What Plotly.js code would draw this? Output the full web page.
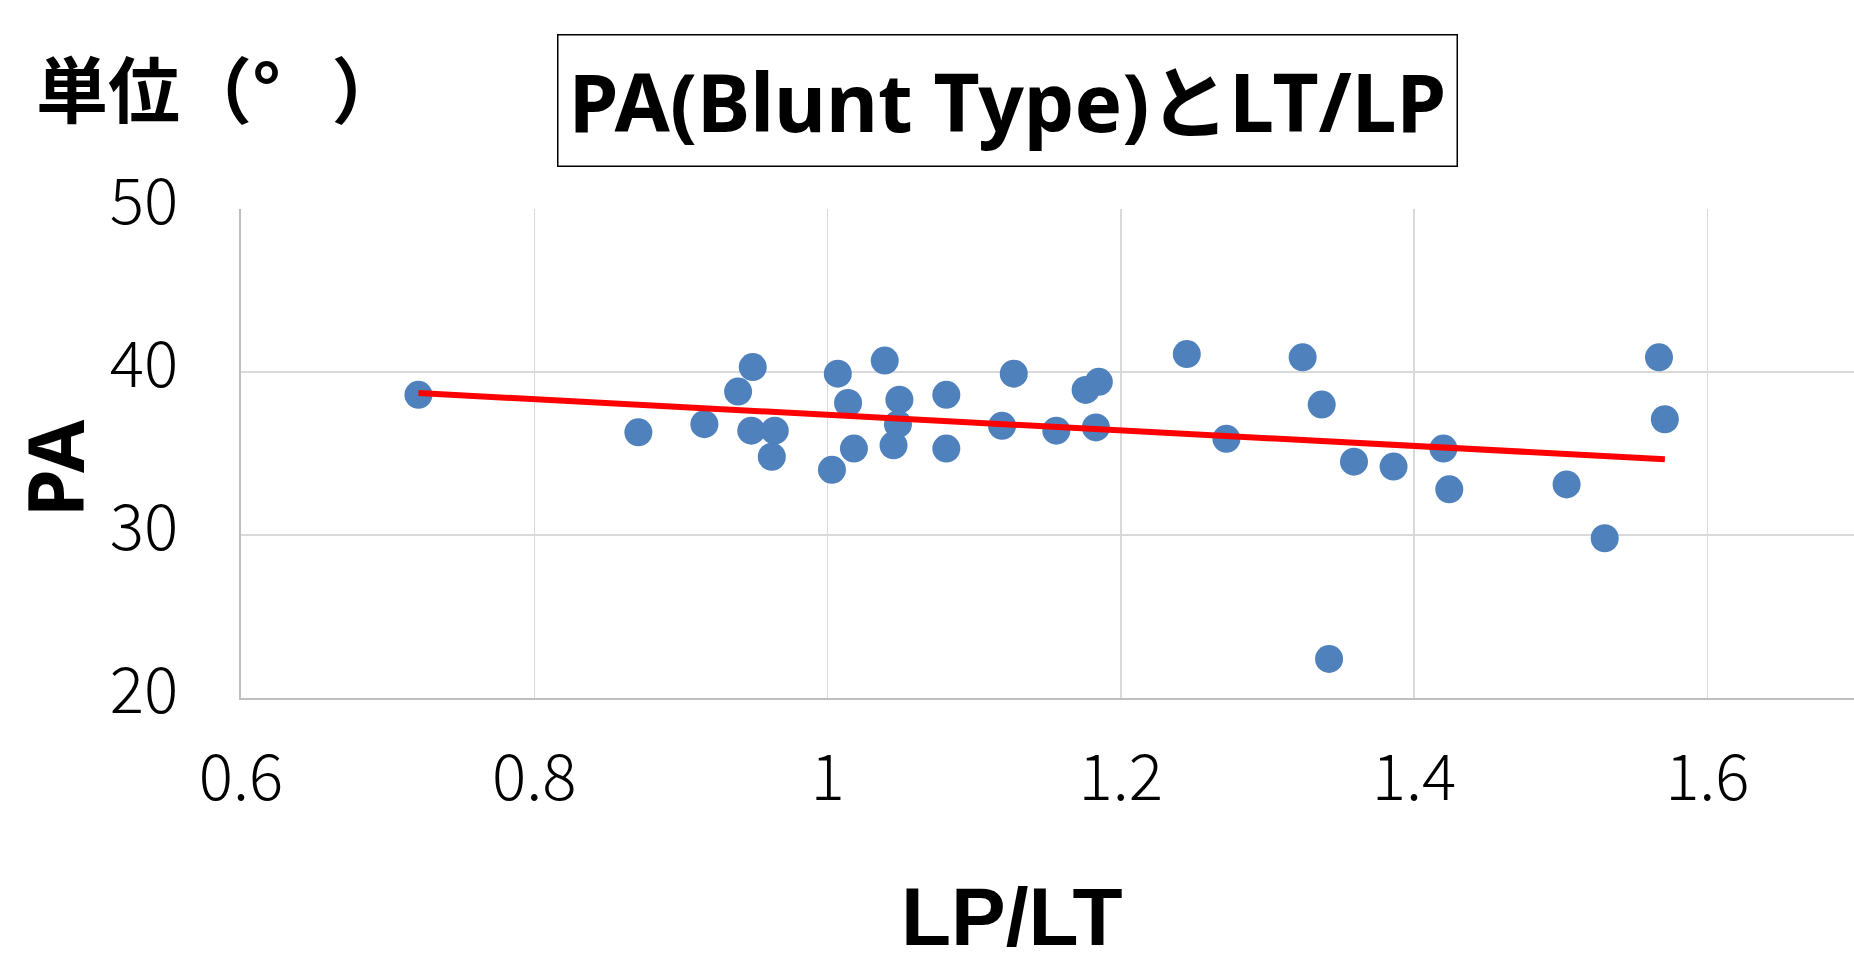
<!DOCTYPE html>
<html>
<head>
<meta charset="utf-8">
<script src="https://cdn.plot.ly/plotly-3.0.1.min.js"></script>
<style>html,body{margin:0;padding:0;background:#fff;}#chart{width:1854px;height:963px;}</style>
</head>
<body>
<div id="chart"></div>
<script>
// LP/LT ratio (x) and PA in degrees (y)
const lpLt = [0.721, 0.871, 0.916, 0.949, 0.939, 0.948, 0.964, 0.962, 1.007, 1.014,
              1.003, 1.018, 1.039, 1.049, 1.048, 1.045, 1.081, 1.081, 1.127, 1.119,
              1.156, 1.176, 1.185, 1.183, 1.245, 1.272, 1.324, 1.337, 1.342, 1.359,
              1.386, 1.420, 1.424, 1.504, 1.530, 1.567, 1.571];
const pa   = [38.6, 36.3, 36.8, 40.3, 38.8, 36.4, 36.4, 34.8, 39.9, 38.1,
              34.0, 35.3, 40.7, 38.3, 36.8, 35.5, 38.6, 35.3, 39.9, 36.7,
              36.4, 38.9, 39.4, 36.6, 41.1, 35.9, 40.9, 38.0, 22.4, 34.5,
              34.2, 35.3, 32.8, 33.1, 29.8, 40.9, 37.1];
const xTickVals = [0.6, 0.8, 1.0, 1.2, 1.4, 1.6];
const xTickText = ['0.6', '0.8', '1', '1.2', '1.4', '1.6'];
const yTickVals = [20, 30, 40, 50];
const chartTitle = 'PA(Blunt Type)とLT/LP';
const unitLabel = '単位（°\u2002\u2009）';
const xTitle = 'LP/LT';
const yTitle = 'PA';

// linear least-squares trendline
const n = lpLt.length;
const mx = lpLt.reduce((a, b) => a + b, 0) / n;
const my = pa.reduce((a, b) => a + b, 0) / n;
let sxy = 0, sxx = 0;
for (let i = 0; i < n; i++) { sxy += (lpLt[i] - mx) * (pa[i] - my); sxx += (lpLt[i] - mx) ** 2; }
const slope = sxy / sxx, icpt = my - slope * mx;
const trendX = [Math.min(...lpLt), Math.max(...lpLt)];
const trendY = trendX.map(v => icpt + slope * v);

const FONT_JP = '"Noto Sans CJK JP", "Noto Sans", sans-serif';
const FONT_LAT = '"Noto Sans", "Noto Sans CJK JP", sans-serif';
const FONT_ARIAL = '"Liberation Sans", "Noto Sans", sans-serif';

const data = [
  { x: lpLt, y: pa, type: 'scatter', mode: 'markers',
    marker: { color: '#4F81BD', size: 28 }, showlegend: false, hoverinfo: 'x+y' },
  { x: trendX, y: trendY, type: 'scatter', mode: 'lines',
    line: { color: '#FF0000', width: 6 }, showlegend: false }
];

const layout = {
  width: 1854, height: 963,
  margin: { l: 241, r: 0, t: 209, b: 265, pad: 0 },
  paper_bgcolor: '#ffffff', plot_bgcolor: '#ffffff',
  font: { family: FONT_JP, color: '#000000' },
  xaxis: {
    range: [0.6, 1.7], tickvals: xTickVals, ticktext: xTickText,
    showgrid: true, gridcolor: '#D9D9D9', gridwidth: 1.5,
    showline: true, linecolor: '#BFBFBF', linewidth: 2,
    zeroline: false, ticks: 'outside', ticklen: 23, tickcolor: 'rgba(0,0,0,0)',
    tickfont: { family: FONT_JP, size: 64, color: '#000', weight: 300 }
  },
  yaxis: {
    range: [20, 50], tickvals: yTickVals,
    showgrid: true, gridcolor: '#D9D9D9', gridwidth: 1.5,
    showline: true, linecolor: '#BFBFBF', linewidth: 2,
    zeroline: false, ticks: 'outside', ticklen: 48, tickcolor: 'rgba(0,0,0,0)',
    ticklabelshift: -7,
    tickfont: { family: FONT_JP, size: 64, color: '#000', weight: 300 }
  },
  annotations: [
    { text: '<b>' + chartTitle + '</b>', xref: 'paper', yref: 'paper',
      x: (1007.5 - 241) / 1613, y: 1 + (208.6 - 100.5) / 489,
      xanchor: 'center', yanchor: 'middle', showarrow: false,
      width: 898, height: 130, align: 'center', valign: 'middle',
      font: { family: FONT_LAT, size: 80, color: '#000' },
      bordercolor: '#000', borderwidth: 1.5, borderpad: 0, bgcolor: '#fff' },
    { text: '<b>' + unitLabel + '</b>', xref: 'paper', yref: 'paper',
      x: (34 - 241) / 1613, y: 1 + (208.6 - 85) / 489,
      xanchor: 'left', yanchor: 'middle', showarrow: false,
      font: { family: FONT_JP, size: 72, color: '#000' } },
    { text: '<b>' + xTitle + '</b>', xref: 'paper', yref: 'paper',
      x: (1012 - 241) / 1613, y: -(915.6 - 697.6) / 489,
      xanchor: 'center', yanchor: 'middle', showarrow: false,
      font: { family: FONT_ARIAL, size: 82, color: '#000' } },
    { text: '<b>' + yTitle + '</b>', xref: 'paper', yref: 'paper',
      x: (55 - 241) / 1613, y: (697.6 - 467.5) / 489,
      xanchor: 'center', yanchor: 'middle', showarrow: false, textangle: -90,
      font: { family: FONT_LAT, size: 77, color: '#000' } }
  ]
};

Plotly.newPlot('chart', data, layout, { displayModeBar: false, staticPlot: true });
</script>
</body>
</html>
